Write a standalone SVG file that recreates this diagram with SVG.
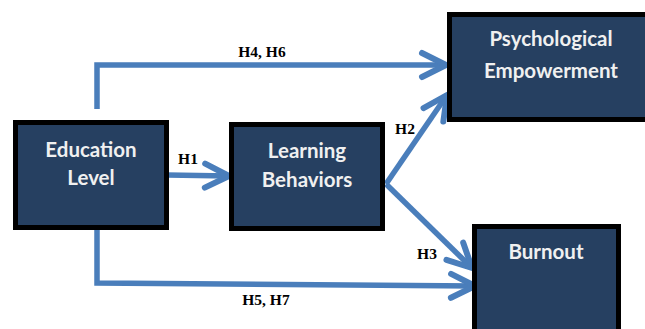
<svg xmlns="http://www.w3.org/2000/svg" width="645" height="329" viewBox="0 0 645 329">
<defs>
<style>
.box{fill:#264061;stroke:#000;stroke-width:5}
.t{font-family:Lato,"Open Sans",sans-serif;font-weight:bold;font-size:20.5px;fill:#F0F0F0;text-anchor:middle}
.lbl{font-family:"Liberation Serif",serif;font-weight:bold;font-size:15.5px;fill:#000;text-anchor:middle}
.c{fill:none;stroke:#4A7EBB;stroke-width:5.5;stroke-linejoin:miter}
</style>
<marker id="ah" markerUnits="userSpaceOnUse" viewBox="-30 -16 34 32" refX="0" refY="0" markerWidth="34" markerHeight="32" orient="auto" overflow="visible">
<path d="M -24 -12 L 0 0 L -24 12" fill="none" stroke="#4A7EBB" stroke-width="6" stroke-linecap="round" stroke-linejoin="round"/>
</marker>
</defs>
<rect width="645" height="329" fill="#fff"/>
<g id="connectors">
<path class="c" d="M 97 109 L 97 65 L 446 65" marker-end="url(#ah)"/>
<path class="c" d="M 167 175 L 229 176" marker-end="url(#ah)"/>
<path class="c" d="M 386 184 L 447 95" marker-end="url(#ah)"/>
<path class="c" d="M 386 184 L 472 268" marker-end="url(#ah)"/>
<path class="c" d="M 97 226 L 97 283 L 475 286" marker-end="url(#ah)"/>
</g>
<g id="labels">
<text class="lbl" x="262" y="57">H4, H6</text>
<text class="lbl" x="188" y="164">H1</text>
<text class="lbl" x="405" y="134">H2</text>
<text class="lbl" x="427" y="259">H3</text>
<text class="lbl" x="266" y="305">H5, H7</text>
</g>
<g id="education">
<rect class="box" x="15.5" y="122.5" width="151" height="105"/>
<text class="t" x="91" y="157">Education</text>
<text class="t" x="91" y="185">Level</text>
</g>
<g id="learning">
<rect class="box" x="231.5" y="124.5" width="151" height="104"/>
<text class="t" x="307" y="158">Learning</text>
<text class="t" x="307" y="187">Behaviors</text>
</g>
<g id="psych">
<rect class="box" x="449.5" y="14.5" width="205" height="105"/>
<text class="t" x="551" y="46">Psychological</text>
<text class="t" x="551" y="78">Empowerment</text>
</g>
<g id="burnout">
<rect class="box" x="474.5" y="226.5" width="144" height="110"/>
<text class="t" x="546" y="259">Burnout</text>
</g>
</svg>
